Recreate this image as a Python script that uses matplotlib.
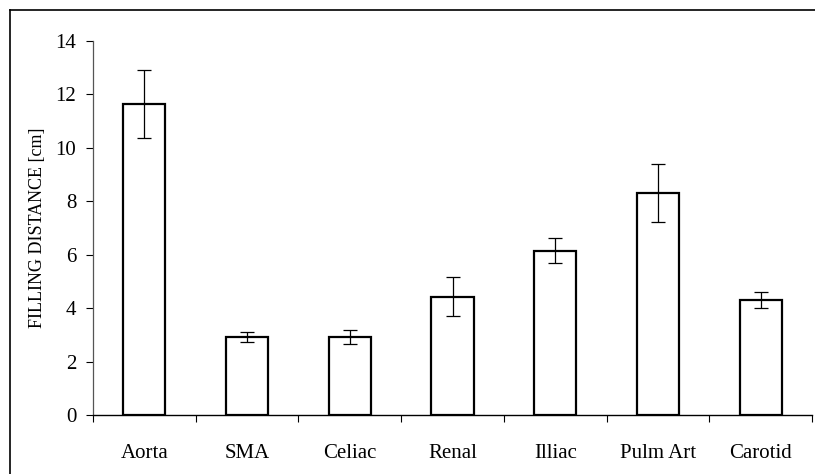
import matplotlib.pyplot as plt
import numpy as np
from matplotlib.lines import Line2D

vessels = ["Aorta", "SMA", "Celiac", "Renal", "Illiac", "Pulm Art", "Carotid"]
distance = [11.65, 2.93, 2.91, 4.43, 6.15, 8.30, 4.31]  # cm
err = [1.28, 0.18, 0.27, 0.74, 0.46, 1.08, 0.30]
yticks = [0, 2, 4, 6, 8, 10, 12, 14]

plt.rcParams["font.family"] = "Liberation Serif"

fig = plt.figure(figsize=(8.15, 4.74), dpi=100)
ax = fig.add_axes([93 / 815, 59 / 474, 719 / 815, 374 / 474])

x = np.arange(len(vessels))
ax.bar(x, distance, width=0.41, color="white", edgecolor="black", linewidth=1.6, zorder=2)
ax.errorbar(x, distance, yerr=err, fmt="none", ecolor="black", elinewidth=0.9,
            capsize=5, capthick=0.9, zorder=3)

ax.set_xlim(-0.5, len(vessels) - 0.5)
ax.set_ylim(0, 14)
ax.set_yticks(yticks)
ax.set_xticks(x)
ax.set_xticklabels(vessels)
ax.set_xticks(np.arange(len(vessels) + 1) - 0.5, minor=True)

ax.tick_params(axis="x", which="major", length=0, pad=21, labelsize=15)
ax.tick_params(axis="x", which="minor", length=5, width=0.8, direction="out")
ax.tick_params(axis="y", length=5, width=0.8, pad=7, labelsize=15)

for s in ["top", "right"]:
    ax.spines[s].set_visible(False)
ax.spines["left"].set_color("#555555")
ax.spines["left"].set_linewidth(0.9)
ax.spines["bottom"].set_linewidth(1.0)

ax.set_ylabel("FILLING DISTANCE [cm]", fontsize=13)
ax.yaxis.set_label_coords(-0.066, 0.5)

# outer frame (left and top edges show in the cropped image)
fig.add_artist(Line2D([10 / 815, 10 / 815], [0, 1 - 10 / 474], color="black", lw=1.2,
                      transform=fig.transFigure))
fig.add_artist(Line2D([10 / 815, 1], [1 - 10 / 474, 1 - 10 / 474], color="black", lw=1.2,
                      transform=fig.transFigure))

fig.savefig("out.png", dpi=100)
